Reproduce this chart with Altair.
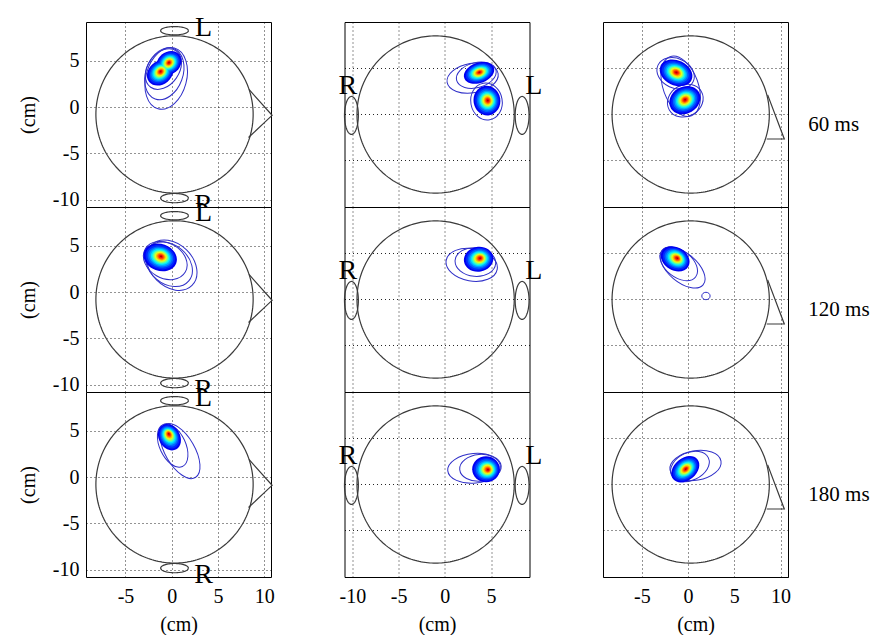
import altair as alt
import numpy as np
import pandas as pd

# ---------------- data (cm) ----------------
XDOM = {1: [-9.27, 10.73], 2: [-10.85, 9.15], 3: [-9.2, 10.8]}
YDOM = {1: [-10.81, 9.19], 2: [-10.05, 9.95], 3: [-10.05, 9.95]}
XTICKS = {1: [-5, 0, 5, 10], 2: [-10, -5, 0, 5], 3: [-5, 0, 5, 10]}
YTICKS = [-10, -5, 0, 5]

ROW_LABELS = ["60 ms", "120 ms", "180 ms"]
ROW_LABEL_X = 13.0
ROW_LABEL_Y = -1.2

HEAD_CX = {1: 0.3, 2: -1.0, 3: 0.28}
HEAD_CY = {1: -0.8, 2: -0.05, 3: -0.05}
HEAD_R = 8.5

NOSE_X = {1: [8.35, 10.85, 8.3], 3: [8.6, 10.4, 8.5]}
NOSE_Y = {1: [1.9, -0.9, -3.3], 3: [2.07, -2.7, -2.7]}

EAR_COL = [1, 1, 2, 2]
EAR_CX = [0.3, 0.3, -10.1, 8.35]
EAR_CY = [8.25, -9.85, -0.15, -0.15]
EAR_A = [1.5, 1.5, 0.75, 0.75]
EAR_B = [0.45, 0.5, 2.05, 2.05]

SIDE_COL = [1, 1, 2, 2]
SIDE_TEXT = ["L", "R", "R", "L"]
SIDE_X = [3.45, 3.45, -10.5, 9.62]
SIDE_Y = [8.54, -10.6, 2.98, 2.98]

# source blobs: peak position, outer-contour centre, semi-axes, tilt (deg, clockwise on screen)
BLOB_ROW = [1, 1, 1, 1, 1, 1, 2, 2, 2, 3, 3, 3]
BLOB_COL = [1, 1, 2, 2, 3, 3, 1, 2, 3, 1, 2, 3]
BLOB_PX = [-0.3, -1.2, 3.74, 4.65, -1.26, -0.32, -1.15, 3.82, -1.16, -0.32, 4.68, -0.25]
BLOB_PY = [4.8, 3.85, 4.52, 1.47, 4.5, 1.55, 3.85, 4.43, 4.43, 4.68, 1.55, 1.62]
BLOB_CX = [-0.3, -1.25, 3.7, 4.55, -1.3, -0.35, -1.25, 3.65, -1.4, -0.25, 4.45, -0.3]
BLOB_CY = [4.75, 3.7, 4.45, 1.45, 4.45, 1.5, 3.75, 4.3, 4.35, 4.3, 1.6, 1.6]
BLOB_A = [1.45, 1.55, 1.7, 1.6, 1.85, 1.75, 1.85, 1.6, 1.65, 1.5, 1.5, 1.7]
BLOB_B = [1.2, 1.25, 1.1, 1.45, 1.35, 1.45, 1.45, 1.35, 1.25, 1.15, 1.4, 1.2]
BLOB_ANG = [320, 320, 340, 80, 25, 330, 20, 350, 30, 60, 0, 320]

# outer (unfilled) contour lines
HALO_ROW = [1, 1, 1, 1, 1, 1, 1, 1, 1, 2, 2, 2, 2, 2, 2, 2, 2, 3, 3, 3, 3, 3, 3]
HALO_COL = [1, 1, 1, 2, 2, 2, 3, 3, 3, 1, 1, 1, 2, 2, 3, 3, 3, 1, 1, 2, 2, 3, 3]
HALO_CX = [-0.9, -0.8, -0.6, 3.4, 3.0, 4.5, -1.35, -0.3, -0.8, -0.7, -0.3, 0.0,
           3.3, 2.9, -1.0, -0.6, 1.93, 0.1, 0.9, 3.8, 3.2, 0.2, 0.8]
HALO_CY = [4.1, 3.6, 3.1, 4.2, 3.9, 1.35, 4.4, 1.45, 3.0, 3.4, 3.0, 2.9,
           4.0, 3.7, 3.8, 3.4, 0.33, 3.4, 2.8, 1.75, 1.7, 1.9, 2.0]
HALO_A = [2.4, 2.9, 3.4, 2.2, 2.8, 2.0, 2.1, 2.0, 3.4, 2.5, 2.8, 3.1,
          2.2, 2.8, 2.3, 2.9, 0.45, 2.5, 3.3, 2.2, 2.9, 2.2, 2.8]
HALO_B = [1.7, 2.0, 2.2, 1.35, 1.6, 1.7, 1.6, 1.7, 1.9, 1.9, 2.1, 2.3,
          1.55, 1.75, 1.45, 1.55, 0.4, 1.4, 1.6, 1.45, 1.6, 1.5, 1.6]
HALO_ANG = [305, 290, 285, 345, 350, 80, 25, 330, 70, 30, 40, 45,
            5, 10, 38, 40, 0, 65, 60, 355, 355, 335, 350]

# filled contour levels (relative size) and jet colours
LEVELS = [1.0, 0.88, 0.77, 0.67, 0.58, 0.5, 0.43, 0.36, 0.29, 0.22, 0.15, 0.07]
JET = ["#0000f0", "#0028ff", "#0064ff", "#00a4ff", "#00e4ff", "#3cffc3",
       "#90ff6f", "#e4ff1b", "#ffc000", "#ff7000", "#ff1c00", "#b40000"]

FONT = "Liberation Serif"
PX_PER_CM = 9.25


# ---------------- helpers ----------------
def ell_path(k):
    c = 0.5523
    return (f"M 1 0 C 1 {c*k:.4f} {c:.4f} {k:.4f} 0 {k:.4f} "
            f"C {-c:.4f} {k:.4f} -1 {c*k:.4f} -1 0 "
            f"C -1 {-c*k:.4f} {-c:.4f} {-k:.4f} 0 {-k:.4f} "
            f"C {c:.4f} {-k:.4f} 1 {-c*k:.4f} 1 0 Z")


def ellipse_pts(cx, cy, a, b, n=160):
    t = np.linspace(0, 2 * np.pi, n + 1)
    return cx + a * np.cos(t), cy + b * np.sin(t)


SIZE_SCALE = alt.Scale(type="pow", exponent=2, domain=[0, 10],
                       range=[0, 4 * (10 * PX_PER_CM) ** 2])


def panel(r, c):
    xs = alt.Scale(domain=XDOM[c], nice=False, zero=False)
    ys = alt.Scale(domain=YDOM[c], nice=False, zero=False)
    if r == 3:
        xax = alt.Axis(values=XTICKS[c], grid=True, ticks=False, domain=False,
                       labels=True, title="(cm)", labelPadding=9, titlePadding=8,
                       labelExpr="datum.value + ''")
    else:
        xax = alt.Axis(values=XTICKS[c], grid=True, ticks=False, domain=False,
                       labels=False, title=None)
    if c == 1:
        yax = alt.Axis(values=YTICKS, grid=True, ticks=False, domain=False,
                       labels=True, title="(cm)", labelPadding=7, titlePadding=13.5,
                       labelExpr="datum.value + ''")
    else:
        yax = alt.Axis(values=YTICKS, grid=True, ticks=False, domain=False,
                       labels=False, title=None)

    def X(f="x"):
        return alt.X(f"{f}:Q", scale=xs, axis=xax)

    def Y(f="y"):
        return alt.Y(f"{f}:Q", scale=ys, axis=yax)

    # outlines: head, nose, ears
    rows = []
    hx, hy = ellipse_pts(HEAD_CX[c], HEAD_CY[c], HEAD_R, HEAD_R, 240)
    for i, (a, b) in enumerate(zip(hx, hy)):
        rows.append(dict(x=a, y=b, grp="head", o=i))
    if c in NOSE_X:
        for i, (a, b) in enumerate(zip(NOSE_X[c], NOSE_Y[c])):
            rows.append(dict(x=a, y=b, grp="nose", o=i))
    for j in range(len(EAR_COL)):
        if EAR_COL[j] == c:
            ex, ey = ellipse_pts(EAR_CX[j], EAR_CY[j], EAR_A[j], EAR_B[j], 80)
            for i, (a, b) in enumerate(zip(ex, ey)):
                rows.append(dict(x=a, y=b, grp=f"ear{j}", o=i))
    outl = pd.DataFrame(rows)
    lines = alt.Chart(outl).mark_line(color="#3a3a3a", strokeWidth=1.2).encode(
        x=X(), y=Y(), detail="grp:N", order="o:Q")

    # halos
    hrows = []
    for j in range(len(HALO_ROW)):
        if HALO_ROW[j] == r and HALO_COL[j] == c:
            hrows.append(dict(x=HALO_CX[j], y=HALO_CY[j], a=HALO_A[j],
                              ang=HALO_ANG[j] % 360,
                              path=ell_path(HALO_B[j] / HALO_A[j])))
    halos = alt.Chart(pd.DataFrame(hrows)).mark_point(
        filled=False, stroke="#2f2fc8", strokeWidth=1, opacity=1).encode(
        x=X(), y=Y(),
        size=alt.Size("a:Q", scale=SIZE_SCALE, legend=None),
        shape=alt.Shape("path:N", scale=None),
        angle=alt.Angle("ang:Q", scale=None))

    # filled blobs
    brows = []
    for j in range(len(BLOB_ROW)):
        if BLOB_ROW[j] == r and BLOB_COL[j] == c:
            for li, s in enumerate(LEVELS):
                cx = BLOB_PX[j] + (BLOB_CX[j] - BLOB_PX[j]) * s
                cy = BLOB_PY[j] + (BLOB_CY[j] - BLOB_PY[j]) * s
                brows.append(dict(x=cx, y=cy, a=BLOB_A[j] * s, lev=li,
                                  ang=BLOB_ANG[j] % 360,
                                  path=ell_path(BLOB_B[j] / BLOB_A[j])))
    bdf = pd.DataFrame(brows).sort_values("lev", kind="stable")
    blobs = alt.Chart(bdf).mark_point(filled=True, opacity=1, strokeWidth=0).encode(
        x=X(), y=Y(),
        size=alt.Size("a:Q", scale=SIZE_SCALE, legend=None),
        shape=alt.Shape("path:N", scale=None),
        angle=alt.Angle("ang:Q", scale=None),
        fill=alt.Fill("lev:O", scale=alt.Scale(domain=list(range(len(LEVELS))), range=JET),
                      legend=None))

    layers = [lines, halos, blobs]

    srows = [dict(x=SIDE_X[j], y=SIDE_Y[j], t=SIDE_TEXT[j])
             for j in range(len(SIDE_COL)) if SIDE_COL[j] == c]
    if srows:
        layers.append(alt.Chart(pd.DataFrame(srows)).mark_text(
            font=FONT, fontSize=28, color="black", align="center", baseline="middle").encode(
            x=X(), y=Y(), text="t:N"))
    if c == 3:
        layers.append(alt.Chart(pd.DataFrame(
            [dict(x=ROW_LABEL_X, y=ROW_LABEL_Y, t=ROW_LABELS[r - 1])])).mark_text(
            font=FONT, fontSize=21, color="black", align="left", baseline="middle").encode(
            x=X(), y=Y(), text="t:N"))

    return alt.layer(*layers).properties(width=185, height=185)


panels = [panel(r, c) for r in (1, 2, 3) for c in (1, 2, 3)]

chart = alt.concat(*panels, columns=3, spacing={"row": 0, "column": 73.5},
                   bounds="flush").properties(
    padding={"left": 10, "top": 5, "right": 0, "bottom": 0},
    background="white",
).configure_view(stroke="black", strokeWidth=1, fill="white").configure_axis(
    labelFont=FONT, labelFontSize=20, labelColor="black",
    titleFont=FONT, titleFontSize=20, titleFontWeight="normal", titleColor="black",
    gridColor="black", gridDash=[1, 3], gridOpacity=0.85, gridWidth=1,
)

chart.save("out.html", embed_options={"renderer": "svg", "actions": False})
